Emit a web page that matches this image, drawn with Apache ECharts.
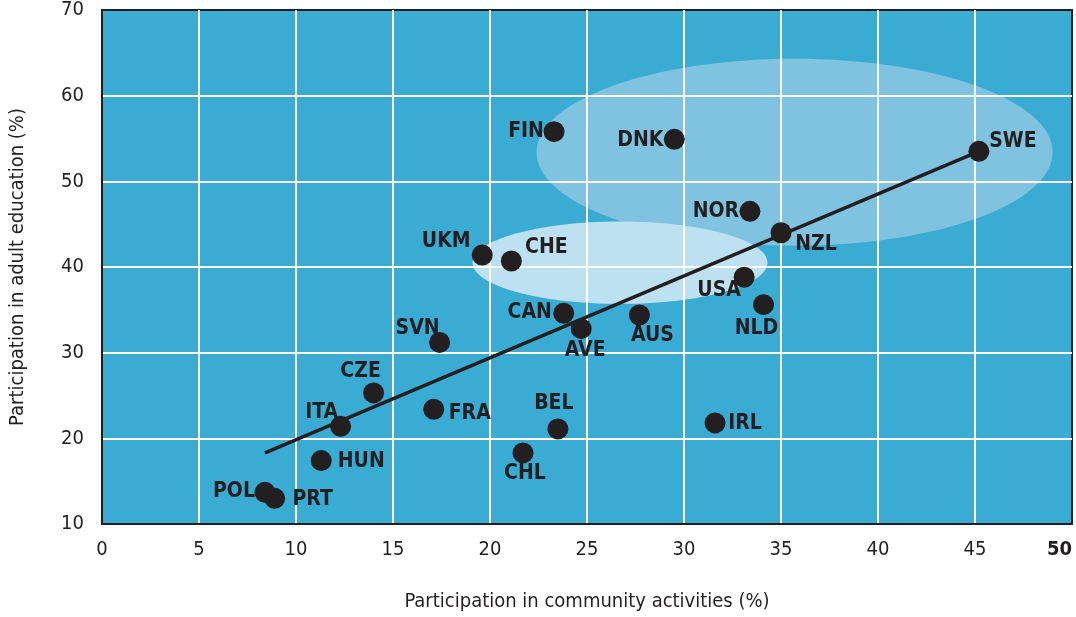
<!DOCTYPE html>
<html>
<head>
<meta charset="utf-8">
<title>Community activities and adult education</title>
<script src="https://cdn.jsdelivr.net/npm/echarts@6/dist/echarts.min.js"></script>
<style>
html, body { margin: 0; padding: 0; background: #fff; }
#scatter { width: 1076px; height: 617px; }
</style>
</head>
<body>
<div id="scatter"></div>
<script>
// countries and participation rates (%)
const countries = ['FIN', 'DNK', 'SWE', 'NOR', 'NZL', 'UKM', 'CHE', 'USA', 'NLD', 'CAN', 'AVE', 'AUS',
  'SVN', 'CZE', 'ITA', 'FRA', 'BEL', 'IRL', 'CHL', 'HUN', 'POL', 'PRT'];
const community = [23.3, 29.5, 45.2, 33.4, 35.0, 19.6, 21.1, 33.1, 34.1, 23.8, 24.7, 27.7,
  17.4, 14.0, 12.3, 17.1, 23.5, 31.6, 21.7, 11.3, 8.4, 8.9];
const adultEducation = [55.8, 54.9, 53.5, 46.5, 44.0, 41.4, 40.7, 38.8, 35.6, 34.6, 32.8, 34.4,
  31.2, 25.3, 21.4, 23.4, 21.1, 21.8, 18.3, 17.4, 13.7, 13.0];

// fitted line end points
const trendX = [8.4, 45.2];
const trendY = [18.3, 53.5];

// shaded clusters: centre and half extents, in axis units
const clusterX = [35.7, 26.7];
const clusterY = [53.4, 40.5];
const clusterRx = [13.3, 7.6];
const clusterRy = [10.9, 4.8];

const xTicks = [0, 5, 10, 15, 20, 25, 30, 35, 40, 45, 50];
const yTicks = [10, 20, 30, 40, 50, 60, 70];

// label offset from the dot centre (px)
const labelOffset = {
  FIN: [-28, 0], DNK: [-34, 1], SWE: [34, -10], NOR: [-34, 0], NZL: [35, 12],
  UKM: [-36, -13], CHE: [35, -13], USA: [-25, 13], NLD: [-7, 24], CAN: [-34, -1],
  AVE: [4, 22], AUS: [13, 21], SVN: [-22, -14], CZE: [-13, -21], ITA: [-19, -14],
  FRA: [36, 4], BEL: [-4, -25], IRL: [30, 1], CHL: [2, 21], HUN: [40, 1],
  POL: [-31, -1], PRT: [38, 1]
};
const clusterColors = ['#80c3e0', '#bde1f0'];

const font = '"Liberation Sans Narrow", "DejaVu Sans Condensed", "Roboto", sans-serif';
const ink = '#231f20';

let chart = echarts.init(document.getElementById('scatter'));
let option = {
  animation: false,
  grid: {
    left: 101,
    right: 4,
    top: 10,
    bottom: 91,
    show: true,
    backgroundColor: '#3aacd4',
    borderColor: ink,
    borderWidth: 2
  },
  xAxis: {
    type: 'value',
    z: 1,
    min: xTicks[0],
    max: xTicks[xTicks.length - 1],
    interval: xTicks[1] - xTicks[0],
    name: 'Participation in community activities (%)',
    nameLocation: 'middle',
    nameGap: 68,
    nameTextStyle: { fontFamily: font, fontSize: 20, color: ink },
    axisLine: { show: true, lineStyle: { color: ink, width: 2 } },
    axisTick: { show: false },
    axisLabel: {
      fontFamily: font,
      fontSize: 20,
      color: ink,
      margin: 16,
      alignMaxLabel: 'right',
      formatter: v => v === 50 ? '{b|50}' : String(v),
      rich: { b: { fontFamily: font, fontSize: 20, fontWeight: 'bold', color: ink } }
    },
    splitLine: { show: true, showMinLine: false, showMaxLine: false, lineStyle: { color: '#ffffff', width: 2 } }
  },
  yAxis: {
    type: 'value',
    z: 1,
    min: yTicks[0],
    max: yTicks[yTicks.length - 1],
    interval: yTicks[1] - yTicks[0],
    name: 'Participation in adult education (%)',
    nameLocation: 'middle',
    nameGap: 74,
    nameTextStyle: { fontFamily: font, fontSize: 20, color: ink },
    axisLine: { show: true, lineStyle: { color: ink, width: 2 } },
    axisTick: { show: false },
    axisLabel: { fontFamily: font, fontSize: 20, color: ink, margin: 18 },
    splitLine: { show: true, showMinLine: false, showMaxLine: false, lineStyle: { color: '#ffffff', width: 2 } }
  },
  series: [
    {
      type: 'custom',
      z: 0,
      silent: true,
      data: clusterX.map((x, i) => [x, clusterY[i], clusterRx[i], clusterRy[i]]),
      encode: { x: 0, y: 1 },
      renderItem(params, api) {
        let c = api.coord([api.value(0), api.value(1)]);
        let s = api.size([api.value(2), api.value(3)]);
        return {
          type: 'ellipse',
          shape: { cx: c[0], cy: c[1], rx: s[0], ry: s[1] },
          style: { fill: clusterColors[params.dataIndex] }
        };
      }
    },
    {
      type: 'line',
      z: 2,
      silent: true,
      showSymbol: false,
      data: trendX.map((x, i) => [x, trendY[i]]),
      lineStyle: { color: ink, width: 3.5 }
    },
    {
      type: 'scatter',
      z: 3,
      symbolSize: 21,
      itemStyle: { color: ink, opacity: 1 },
      data: countries.map((name, i) => ({
        name: name,
        value: [community[i], adultEducation[i]],
        label: { offset: labelOffset[name] }
      })),
      label: {
        show: true,
        position: 'inside',
        formatter: '{b}',
        fontFamily: font,
        fontSize: 21,
        fontWeight: 'bold',
        color: ink
      }
    }
  ]
};
chart.setOption(option);
</script>
</body>
</html>
